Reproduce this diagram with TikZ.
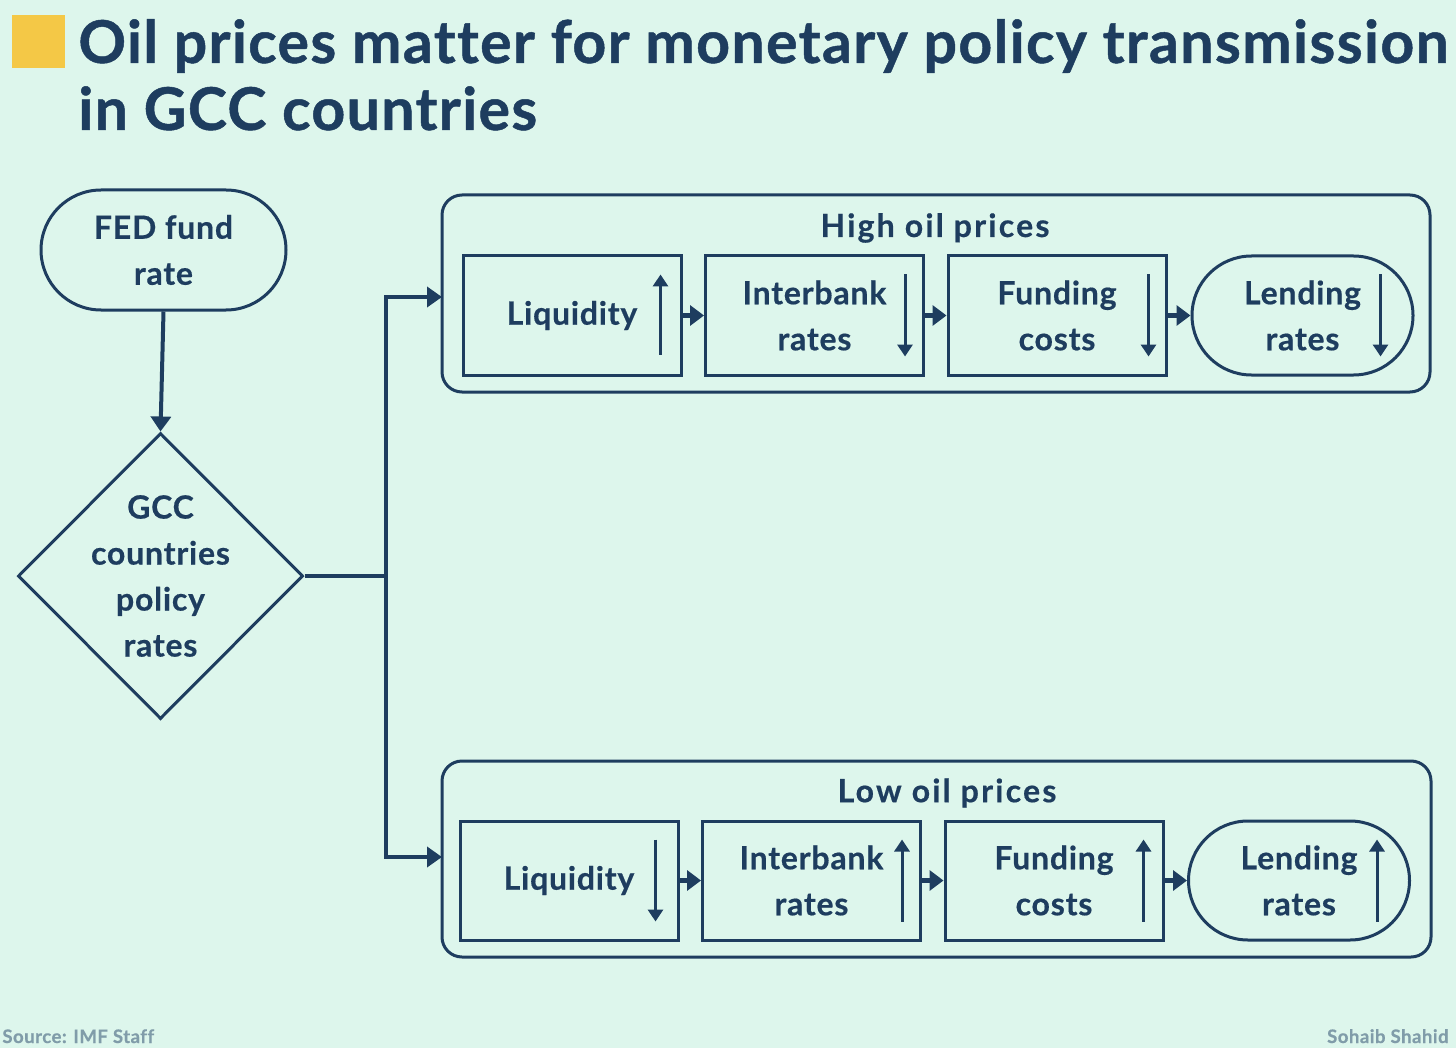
\documentclass[tikz,border=0pt]{standalone}
\usepackage{fontspec}
\setmainfont{Lato}[BoldFeatures={FakeBold=0.5,LetterSpace=2.5,RawFeature=-liga}]
\newfontfamily\titlefont{Lato}[BoldFeatures={FakeBold=0.8,LetterSpace=2.3,RawFeature=-liga}]
\newfontfamily\panelfont{Lato}[BoldFeatures={FakeBold=0.5,LetterSpace=7,RawFeature=-liga}]
\usetikzlibrary{arrows.meta,shapes.geometric,shapes.misc,calc}
\definecolor{bg}{HTML}{DDF6EC}
\definecolor{navy}{HTML}{1E3D5F}
\definecolor{gold}{HTML}{F4C846}
\definecolor{foot}{HTML}{809CA9}
\begin{document}
\begin{tikzpicture}[x=0.5pt,y=-0.5pt,
  every node/.style={text=navy, align=center},
  lbl/.style={font=\bfseries\fontsize{16}{23}\selectfont},
  plbl/.style={font=\panelfont\bfseries\fontsize{16}{23}\selectfont},
  box/.style={lbl, draw=navy, line width=1.5pt, minimum width=109pt, minimum height=59.5pt, inner sep=0pt},
  stad/.style={box, rounded rectangle},
  panel/.style={draw=navy, line width=1.5pt, rounded corners=10pt},
  conn/.style={draw=navy, line width=2pt, -{Triangle[length=7.5pt,width=10pt]}},
  wire/.style={draw=navy, line width=2pt},
  step2/.style={draw=navy, line width=2.5pt, -{Triangle[length=7pt,width=10pt]}, shorten <=-0.5pt},
  updn/.style={draw=navy, line width=1.5pt, -{Triangle[length=6pt,width=7.5pt]}},
  ttl/.style={anchor=base west, inner sep=0pt, font=\titlefont\bfseries\fontsize{29.5}{33}\selectfont},
]
\fill[bg] (0,0) rectangle (1456,1048);
\useasboundingbox (0,0) rectangle (1456,1048);

% title
\fill[gold] (12,15) rectangle (65,68);
\node[ttl] (t1) at (78,63) {Oil prices matter for monetary policy transmission};
\node[ttl] (t2) at (78,130) {in GCC countries};

% left flow
\node[stad, minimum width=122.5pt, minimum height=60pt] (fed) at (163.5,250) {FED fund\\rate};
\node[diamond, draw=navy, line width=1.5pt, aspect=1, minimum width=142.5pt, minimum height=143pt, inner sep=0pt] (gcc) at (160.5,576) {};
\node[lbl] (gcct) at (160.5,576) {GCC\\countries\\policy\\rates};
\draw[conn] (fed.south) -- (gcc.north);

% panels
\draw[panel] (442,195) rectangle (1430,392);
\draw[panel] (442,761) rectangle (1431,957);
\node[plbl] (hop) at (935,228) {High oil prices};
\node[plbl] (lop) at (947,793) {Low oil prices};
\coordinate (hin) at (442,297);
\coordinate (lin) at (442,857);
\coordinate (jt) at (386,297);
\coordinate (jb) at (386,857);
\draw[wire] (gcc.east) -- (gcc.east -| jt);
\draw[conn] (jb) -- (jt) -- (hin);
\draw[conn] (jt) -- (jb) -- (lin);

% high row
\node[box] (h1) at (572,315.5) {Liquidity};
\node[box] (h2) at (814.5,315.5) {Interbank\\rates};
\node[box] (h3) at (1057,315.5) {Funding\\costs};
\node[stad, minimum width=110.5pt] (h4) at (1302.5,315.5) {Lending\\rates};
\draw[step2] (h1) -- (h2);
\draw[step2] (h2) -- (h3);
\draw[step2] (h3) -- (h4);
\draw[updn] ($(h1.south east)+(-22,-22)$) -- ($(h1.north east)+(-22,20)$);
\draw[updn] ($(h2.north east)+(-20,20)$) -- ($(h2.south east)+(-20,-20)$);
\draw[updn] ($(h3.north east)+(-19,20)$) -- ($(h3.south east)+(-19,-20)$);
\draw[updn] ($(h4.east |- h4.north)+(-34,20)$) -- ($(h4.east |- h4.south)+(-34,-20)$);

% low row
\node[box] (l1) at (569,880.5) {Liquidity};
\node[box] (l2) at (811.5,880.5) {Interbank\\rates};
\node[box] (l3) at (1054,880.5) {Funding\\costs};
\node[stad, minimum width=110.5pt] (l4) at (1299,880.5) {Lending\\rates};
\draw[step2] (l1) -- (l2);
\draw[step2] (l2) -- (l3);
\draw[step2] (l3) -- (l4);
\draw[updn] ($(l1.north east)+(-24,20)$) -- ($(l1.south east)+(-24,-20)$);
\draw[updn] ($(l2.south east)+(-20,-20)$) -- ($(l2.north east)+(-20,20)$);
\draw[updn] ($(l3.south east)+(-21,-20)$) -- ($(l3.north east)+(-21,20)$);
\draw[updn] ($(l4.east |- l4.south)+(-34,-20)$) -- ($(l4.east |- l4.north)+(-34,20)$);

% footer
\node[anchor=base west, inner sep=0pt, text=foot, font=\bfseries\fontsize{9.3}{10}\selectfont] (src) at (2,1043) {Source: IMF Staff};
\node[anchor=base east, inner sep=0pt, text=foot, font=\bfseries\fontsize{9.3}{10}\selectfont] (auth) at (1449,1043) {Sohaib Shahid};
\end{tikzpicture}
\end{document}
